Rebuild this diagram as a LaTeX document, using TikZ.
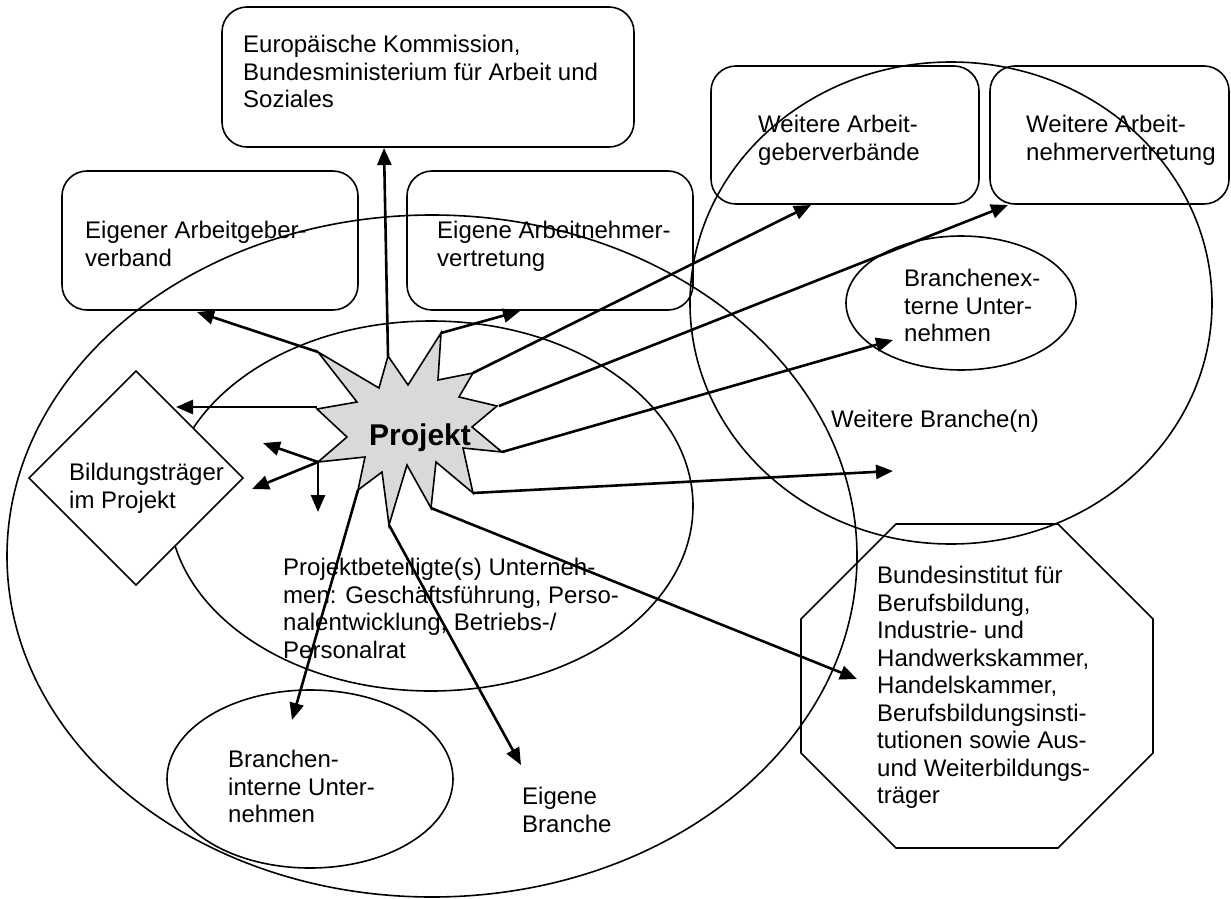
\documentclass[tikz,border=0pt]{standalone}
\usepackage{fontspec}
\setmainfont{Liberation Sans}
\usetikzlibrary{arrows.meta,shapes.geometric}
\definecolor{starfill}{HTML}{D9D9D9}
\begin{document}
\begin{tikzpicture}[x=1pt,y=-1pt,
  outl/.style={draw=black, line width=1.6pt},
  boxst/.style={outl, rounded corners=25pt},
  txt/.style={inner sep=0pt, anchor=north west, align=left, font=\fontsize{24}{27.5}\selectfont},
  arr/.style={line width=2.6pt, -{Triangle[length=17pt,width=14pt]}}]
\useasboundingbox (0,0) rectangle (1231,899);
\fill[white] (0,0) rectangle (1231,899);

% ellipses and circles
\draw[outl] (432,556) ellipse [x radius=425, y radius=341];
\draw[outl] (431,506) ellipse [x radius=262, y radius=185];
\draw[outl] (951,303) ellipse [x radius=261, y radius=241];
\draw[outl] (961,303) ellipse [x radius=115, y radius=67];
\draw[outl] (310,779) ellipse [x radius=143, y radius=89];

% octagon
\draw[outl] (896,524) -- (1058,524) -- (1153,619) -- (1153,753) -- (1058,848) -- (896,848) -- (801,753) -- (801,619) -- cycle;

% rounded boxes
\draw[boxst] (222,7) rectangle (634,147);
\draw[boxst] (62,171) rectangle (358,310);
\draw[boxst] (407,171) rectangle (693,310);
\draw[boxst] (711,66) rectangle (979,204);
\draw[boxst] (990,66) rectangle (1229,204);

% diamond
\draw[outl, fill=white] (29,478) -- (136,371) -- (243,478) -- (136,585) -- cycle;

% star vertices
\coordinate (sUL) at (318,352);
\coordinate (sT) at (388,356);
\coordinate (sUR) at (441,333);
\coordinate (sRU) at (473,373);
\coordinate (sR) at (499,406);
\coordinate (sRL) at (502,452);
\coordinate (sLR) at (473,493);
\coordinate (sBR) at (431,508);
\coordinate (sB) at (389,525);
\coordinate (sBL) at (358,490);
\coordinate (sLL) at (318,462);
\coordinate (sL) at (317,407);

% arrow tips
\coordinate (tEU) at (384,148);
\coordinate (tAG) at (197,312);
\coordinate (tAN) at (520,311);
\coordinate (tWAG) at (811,205);
\coordinate (tWAN) at (1008,205);
\coordinate (tBE) at (893,340);
\coordinate (tWB) at (893,471);
\coordinate (tOct) at (857,679);
\coordinate (tEB) at (521,765);
\coordinate (tBI) at (292,720);
\coordinate (tBT) at (176,407);
\coordinate (tH1) at (263,443);
\coordinate (tH2) at (252,489);
\coordinate (tH3) at (318,512);

% arrows
\draw[arr] (sT) -- (tEU);
\draw[arr] (sUL) -- (tAG);
\draw[arr] (sUR) -- (tAN);
\draw[arr] (sRU) -- (tWAG);
\draw[arr] (sR) -- (tWAN);
\draw[arr] (sRL) -- (tBE);
\draw[arr] (sLR) -- (tWB);
\draw[arr] (sBR) -- (tOct);
\draw[arr] (sB) -- (tEB);
\draw[arr] (sBL) -- (tBI);
\draw[arr] (sL) -- (tBT);
\draw[arr] (sLL) -- (tH1);
\draw[arr] (sLL) -- (tH2);
\draw[arr] (sLL) -- (tH3);

% star
\draw[line width=1.6pt, fill=starfill, line join=miter]
  (sUL) -- (379,388) -- (sT) -- (408,385) -- (sUR) -- (438,380) -- (sRU) -- (459,397)
  -- (497,406) -- (472,427) -- (sRL) -- (463,448) -- (sLR) -- (436,462) -- (sBR)
  -- (407,465) -- (sB) -- (382,472) -- (sBL) -- (365,457) -- (sLL) -- (347,437)
  -- (317,409) -- (357,402) -- cycle;
\node[inner sep=0pt, anchor=base, font=\fontsize{30}{34}\selectfont\bfseries] (proj) at (420,445) {Projekt};

% texts
\node[txt] (eu) at (243,35) {Europäische Kommission,\\Bundesministerium für Arbeit und\\Soziales};
\node[txt] (ag) at (85,221) {Eigener Arbeitgeber-\\verband};
\node[txt] (an) at (437,221) {Eigene Arbeitnehmer-\\vertretung};
\node[txt] (wag) at (758,115) {Weitere Arbeit-\\geberverbände};
\node[txt] (wan) at (1026,115) {Weitere Arbeit-\\nehmervertretung};
\node[txt] (bext) at (904,269) {Branchenex-\\terne Unter-\\nehmen};
\node[txt] (wb) at (831,410) {Weitere Branche(n)};
\node[txt] (bt) at (69,463) {Bildungsträger\\im Projekt};
\node[txt] (pb) at (283,558) {Projektbeteiligte(s) Unterneh-\\men: Geschäftsführung, Perso-\\nalentwicklung, Betriebs-/\\Personalrat};
\node[txt] (bint) at (228,750) {Branchen-\\interne Unter-\\nehmen};
\node[txt] (eb) at (522,787) {Eigene\\Branche};
\node[txt] (oct) at (877,566) {Bundesinstitut für\\Berufsbildung,\\Industrie- und\\Handwerkskammer,\\Handelskammer,\\Berufsbildungsinsti-\\tutionen sowie Aus-\\und Weiterbildungs-\\träger};
\end{tikzpicture}
\end{document}
